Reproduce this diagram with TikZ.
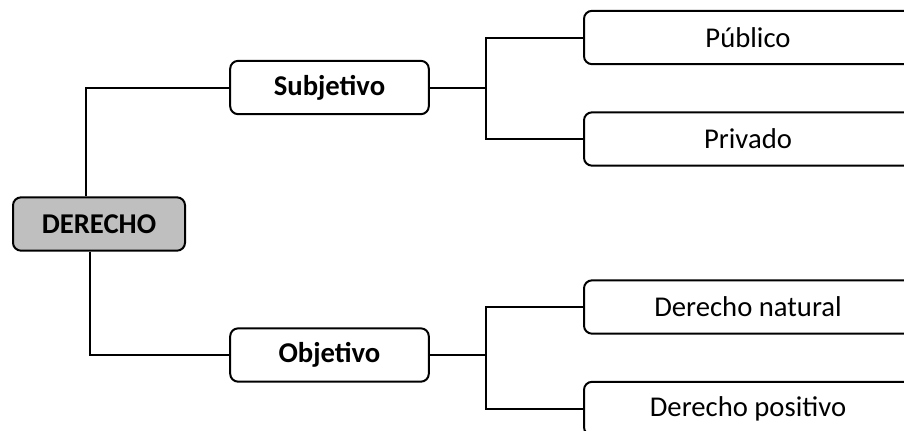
\documentclass[tikz,border=0pt]{standalone}
\usepackage{fontspec}
\setmainfont{Carlito}
\begin{document}
\begin{tikzpicture}[x=0.75pt,y=0.75pt,yscale=-1,xscale=1,
  box/.style={draw,line width=1.5pt,rounded corners=6pt,align=center,
    inner sep=0pt,minimum height=40pt,font=\fontsize{21.5}{25}\selectfont},
  midbox/.style={box,minimum width=149pt,font=\fontsize{21.5}{25}\selectfont\bfseries},
  leafbox/.style={box,minimum width=246pt},
  link/.style={line width=1.5pt}]
%set diagram size 904 x 430, boxes on the right run off the edge
\path [use as bounding box,clip] (0,0) rectangle (904,430);

%Shape: Rounded Rect [id:root]
\node [box,fill=gray!50,minimum width=129pt,font=\fontsize{21.5}{25}\selectfont\bfseries] (derecho) at (99,224) {DERECHO};
%Shape: Rounded Rect [id:subjetivo]
\node [midbox] (subj) at (329.5,87.5) {Subjetivo};
%Shape: Rounded Rect [id:objetivo]
\node [midbox] (obj) at (329.5,355) {Objetivo};

%Shape: Rounded Rect [id:publico]
\node [leafbox] (publico) at (748,37.5) {Público};
%Shape: Rounded Rect [id:privado]
\node [leafbox] (privado) at (748,139) {Privado};
%Shape: Rounded Rect [id:natural]
\node [leafbox] (natural) at (748,307) {Derecho natural};
%Shape: Rounded Rect [id:positivo]
\node [leafbox] (positivo) at (748,408.5) {Derecho positivo};

%branch points
\coordinate (sbranch) at (486,87.5);
\coordinate (obranch) at (486,355);

%Straight Lines [id:root-subj]
\draw [link] ([xshift=-9.75pt]derecho.north) |- (subj.west);
%Straight Lines [id:root-obj]
\draw [link] ([xshift=-6.75pt]derecho.south) |- (obj.west);

%Straight Lines [id:subj-leaves]
\draw [link] (subj.east) -- (sbranch);
\draw [link] (publico.west) -| (sbranch) |- (privado.west);

%Straight Lines [id:obj-leaves]
\draw [link] (obj.east) -- (obranch);
\draw [link] (natural.west) -| (obranch) |- (positivo.west);

\end{tikzpicture}
\end{document}
